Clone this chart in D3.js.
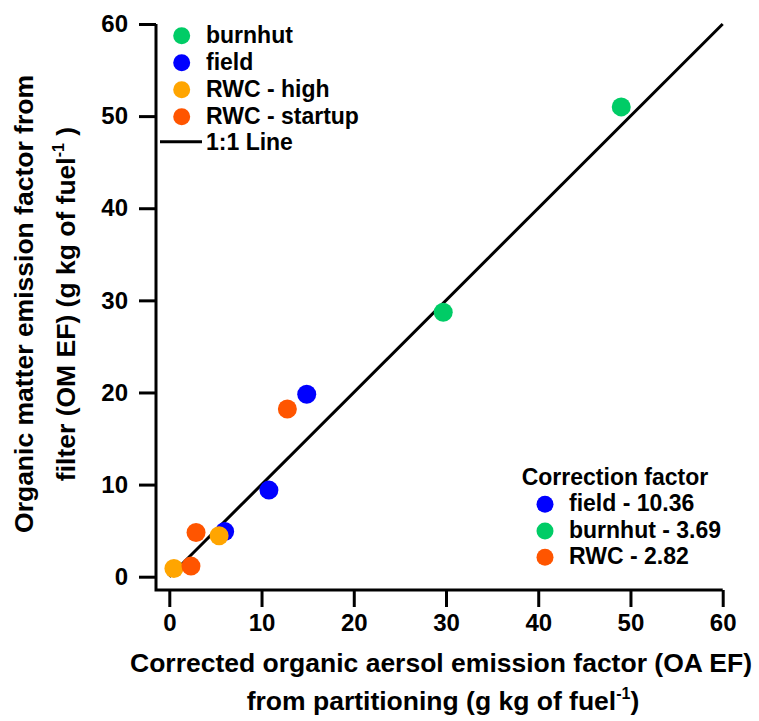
<!DOCTYPE html>
<html>
<head>
<meta charset="utf-8">
<script src="https://cdn.jsdelivr.net/npm/d3@7"></script>
<style>
  html, body { margin: 0; padding: 0; background: #fff; }
  svg { display: block; font-family: "Liberation Sans", Arial, sans-serif; font-weight: bold; }
</style>
</head>
<body>
<svg id="chart" width="759" height="721"></svg>
<script>
// ---- data ----
const seriesNames = ["burnhut", "field", "RWC - high", "RWC - startup"];
const seriesColors = ["#00CC66", "#0000FF", "#FFA500", "#FF5500"];
const burnhutX = [29.7, 49.0];
const burnhutY = [28.7, 51.0];
const fieldX = [6.0, 10.8, 14.9];
const fieldY = [4.9, 9.4, 19.8];
const rwcHighX = [0.5, 5.4];
const rwcHighY = [0.9, 4.45];
const rwcStartupX = [2.35, 2.9, 12.8];
const rwcStartupY = [1.15, 4.8, 18.2];
const oneToOne = [0, 60];
const tickValues = [0, 10, 20, 30, 40, 50, 60];
const corrNames = ["field - 10.36", "burnhut - 3.69", "RWC - 2.82"];
const corrColors = ["#0000FF", "#00CC66", "#FF5500"];

const seriesX = [burnhutX, fieldX, rwcHighX, rwcStartupX];
const seriesY = [burnhutY, fieldY, rwcHighY, rwcStartupY];

const svg = d3.select("#chart");
const x = d3.scaleLinear().domain([0, 60]).range([169.3, 722.7]);
const y = d3.scaleLinear().domain([0, 60]).range([576.7, 24]);
const axisX0 = 156, axisY0 = 590;

// axes
const gx = svg.append("g").attr("transform", `translate(0,${axisY0})`)
  .call(d3.axisBottom(x).tickValues(tickValues).tickSize(17).tickPadding(7).tickSizeOuter(0));
gx.select(".domain").remove();
gx.selectAll(".tick line").attr("stroke", "#000").attr("stroke-width", 3);
gx.selectAll(".tick text").attr("font-size", 24).attr("font-weight", "bold").attr("fill", "#000")
  .attr("font-family", "Liberation Sans, Arial, sans-serif");

const gy = svg.append("g").attr("transform", `translate(${axisX0},0)`)
  .call(d3.axisLeft(y).tickValues(tickValues).tickSize(17).tickPadding(11).tickSizeOuter(0));
gy.select(".domain").remove();
gy.selectAll(".tick line").attr("stroke", "#000").attr("stroke-width", 3);
gy.selectAll(".tick text").attr("font-size", 24).attr("font-weight", "bold").attr("fill", "#000")
  .attr("font-family", "Liberation Sans, Arial, sans-serif");

// axis lines
svg.append("path")
  .attr("d", `M${axisX0},${y(60)}V${axisY0}H${x(60)}`)
  .attr("fill", "none").attr("stroke", "#000").attr("stroke-width", 3);

// 1:1 line
svg.append("line")
  .attr("x1", x(oneToOne[0])).attr("y1", y(oneToOne[0]))
  .attr("x2", x(oneToOne[1])).attr("y2", y(oneToOne[1]))
  .attr("stroke", "#000").attr("stroke-width", 3);

// points
seriesNames.forEach((name, i) => {
  const pts = seriesX[i].map((v, j) => [v, seriesY[i][j]]);
  svg.append("g").selectAll("circle").data(pts).join("circle")
    .attr("cx", d => x(d[0])).attr("cy", d => y(d[1]))
    .attr("r", 9.5).attr("fill", seriesColors[i]);
});

// top-left legend
const legRows = [35.7, 62.7, 89.7, 116.7];
seriesNames.forEach((name, i) => {
  svg.append("circle").attr("cx", 181.7).attr("cy", legRows[i]).attr("r", 8.5).attr("fill", seriesColors[i]);
  svg.append("text").attr("x", 206).attr("y", legRows[i] + 7).attr("font-size", 23).text(name);
});
svg.append("line").attr("x1", 160).attr("x2", 202).attr("y1", 141.7).attr("y2", 141.7)
  .attr("stroke", "#000").attr("stroke-width", 3);
svg.append("text").attr("x", 206).attr("y", 141.7 + 8).attr("font-size", 23).text("1:1 Line");

// correction factor legend
svg.append("text").attr("x", 521.7).attr("y", 485).attr("font-size", 23).text("Correction factor");
const corrRows = [504.3, 531, 557.3];
corrNames.forEach((name, i) => {
  svg.append("circle").attr("cx", 545).attr("cy", corrRows[i]).attr("r", 8.5).attr("fill", corrColors[i]);
  svg.append("text").attr("x", 569).attr("y", corrRows[i] + 7).attr("font-size", 23).text(name);
});

// x axis title
svg.append("text").attr("x", 441).attr("y", 672).attr("text-anchor", "middle").attr("font-size", 26.5)
  .text("Corrected organic aersol emission factor (OA EF)");
const xt2 = svg.append("text").attr("x", 443).attr("y", 710).attr("text-anchor", "middle").attr("font-size", 26.5);
xt2.append("tspan").text("from partitioning (g kg of fuel");
xt2.append("tspan").attr("dy", -11).attr("font-size", 16).text("-1");
xt2.append("tspan").attr("dy", 11).text(")");

// y axis title
const yt = svg.append("g").attr("transform", "translate(33,304) rotate(-90)");
yt.append("text").attr("x", 0).attr("y", 0).attr("text-anchor", "middle").attr("font-size", 26.5)
  .text("Organic matter emission factor from");
const yt2 = yt.append("text").attr("x", 0).attr("y", 42).attr("text-anchor", "middle").attr("font-size", 26.5);
yt2.append("tspan").text("filter (OM EF) (g kg of fuel");
yt2.append("tspan").attr("dy", -11).attr("font-size", 16).text("-1");
yt2.append("tspan").attr("dy", 11).text(" )");
</script>
</body>
</html>
